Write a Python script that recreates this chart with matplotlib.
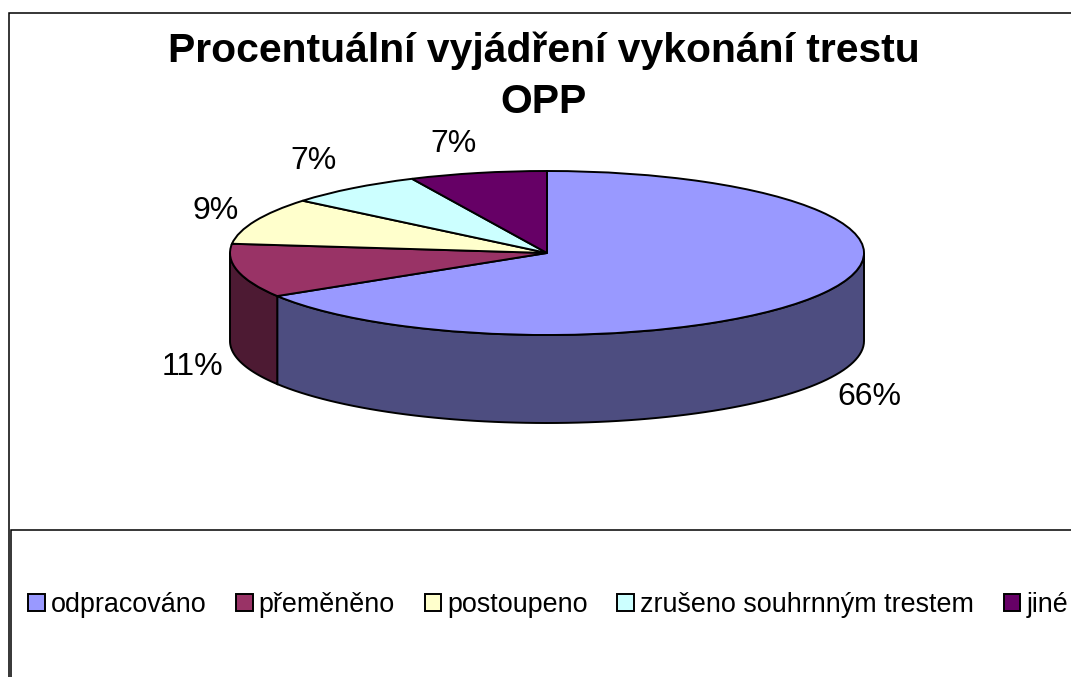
import numpy as np
import matplotlib
matplotlib.use("Agg")
import matplotlib.pyplot as plt
from matplotlib.patches import Polygon

plt.rcParams['font.family'] = ['Liberation Sans', 'DejaVu Sans']

title = "Procentuální vyjádření vykonání trestu\nOPP"
categories = ["odpracováno", "přeměněno", "postoupeno", "zrušeno souhrnným trestem", "jiné"]
values = [66.2, 10.6, 9.2, 7.0, 7.0]
top_colors = ["#9999FF", "#993366", "#FFFFCC", "#CCFFFF", "#660066"]
side_colors = ["#4D4D80", "#4D1A33", "#808066", "#668080", "#330033"]

W, H = 1071, 677
fig = plt.figure(figsize=(W / 100, H / 100), dpi=100, facecolor="white")

# overlay in pixel coordinates for frames and text
ov = fig.add_axes([0, 0, 1, 1], zorder=3)
ov.set_xlim(0, W)
ov.set_ylim(H, 0)
ov.axis("off")
ov.patch.set_alpha(0)

# pie axes: unit circle squashed into an ellipse, with room for the depth below
L, R, T, RY_PX, DEPTH_PX = 230, 864, 171, 82, 88
B = T + 2 * RY_PX + DEPTH_PX
ax = fig.add_axes([L / W, 1 - B / H, (R - L) / W, (B - T) / H], zorder=2)
depth = DEPTH_PX / RY_PX

edge = dict(edgecolor="black", linewidth=1.4)
wedges, _ = ax.pie(values, colors=top_colors, startangle=90, counterclock=False,
                   radius=1, wedgeprops=dict(edge, zorder=3))
for w in wedges:
    w.set_clip_on(False)

# visible rim of each slice (only the front half, clockwise angle 90..270 from top)
frac = np.cumsum([0] + values) / sum(values) * 360
for a0, a1, c in zip(frac[:-1], frac[1:], side_colors):
    lo, hi = max(a0, 90), min(a1, 270)
    if hi <= lo:
        continue
    t = np.radians(np.linspace(lo, hi, 80))
    x, y = np.sin(t), np.cos(t)
    pts = np.r_[np.c_[x, y], np.c_[x[::-1], y[::-1] - depth]]
    ax.add_patch(Polygon(pts, closed=True, facecolor=c, zorder=2, clip_on=False, **edge))

ax.set_aspect("auto")
ax.set_xlim(-1, 1)
ax.set_ylim(-1 - depth, 1)
ax.axis("off")

# frames
ov.plot([9, 9, W], [H, 13, 13], color="black", lw=1.1, solid_joinstyle="miter")
ov.plot([11, 11, W], [H, 529.5, 529.5], color="black", lw=1.1, solid_joinstyle="miter")

# title
ov.text(544, 76.5, title, ha="center", va="center", fontsize=29.45, fontweight="bold",
        color="black", linespacing=1.42)

# value labels
label_pos = [(869, 397), (192, 367), (216, 211), (313, 161), (453, 144)]
for v, (lx, ly) in zip(values, label_pos):
    ov.text(lx, ly, f"{round(v)}%", ha="center", va="center", fontsize=23, color="black")

# legend
handles = [plt.Rectangle((0, 0), 1, 1, facecolor=c, edgecolor="black", linewidth=1.4)
           for c in top_colors]
fig.legend(handles, categories, ncols=5, frameon=False, fontsize=19.4,
           loc="center left", bbox_to_anchor=(28 / W, 1 - 605 / H),
           borderaxespad=0, borderpad=0, handlelength=0.62, handleheight=0.62,
           handletextpad=0.22, columnspacing=1.10)

fig.savefig("out.png", dpi=100, facecolor="white")
